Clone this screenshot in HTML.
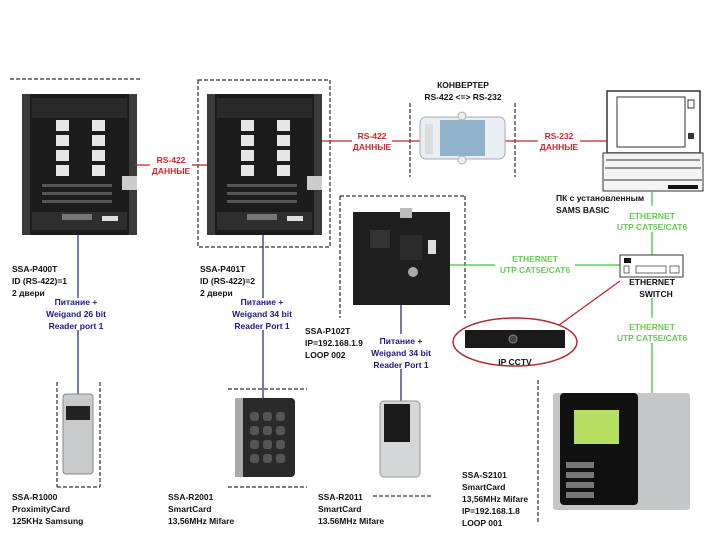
<!DOCTYPE html>
<html><head><meta charset="utf-8"><style>
html,body{margin:0;padding:0;background:#fff;width:720px;height:540px;overflow:hidden}
svg text{font-family:"Liberation Sans",sans-serif;font-weight:bold;font-size:8.5px}
</style></head><body>
<svg width="720" height="540" viewBox="0 0 720 540" xmlns="http://www.w3.org/2000/svg">
<defs>
<symbol id="board" viewBox="0 0 115 141" width="115" height="141">
<rect x="0" y="0" width="115" height="141" fill="#1c1c1c"/>
<rect x="0" y="0" width="8" height="141" fill="#3a3a3a"/>
<rect x="107" y="0" width="8" height="141" fill="#3a3a3a"/>
<rect x="10" y="4" width="95" height="20" fill="#2a2a2a"/>
<g fill="#e6e6e6">
<rect x="34" y="26" width="13" height="11"/><rect x="34" y="41" width="13" height="11"/><rect x="34" y="56" width="13" height="11"/><rect x="34" y="71" width="13" height="11"/>
<rect x="70" y="26" width="13" height="11"/><rect x="70" y="41" width="13" height="11"/><rect x="70" y="56" width="13" height="11"/><rect x="70" y="71" width="13" height="11"/>
</g>
<rect x="10" y="118" width="95" height="18" fill="#2e2e2e"/>
<rect x="40" y="120" width="30" height="6" fill="#777"/>
<rect x="80" y="122" width="16" height="5" fill="#ddd"/>
<g fill="#555"><rect x="20" y="90" width="70" height="3"/><rect x="20" y="98" width="70" height="3"/><rect x="20" y="106" width="70" height="3"/></g>
<rect x="100" y="82" width="15" height="14" fill="#ccc"/>
</symbol>
</defs>
<g stroke="#000" stroke-width="1" stroke-dasharray="4,2" fill="none">
<line x1="10" y1="79" x2="142" y2="79"/>
<rect x="198" y="80" width="132" height="167"/>
<line x1="410" y1="103" x2="410" y2="177"/><line x1="515" y1="103" x2="515" y2="177"/>
<line x1="340" y1="196" x2="465" y2="196"/><line x1="465" y1="196" x2="465" y2="318"/><line x1="340" y1="196" x2="340" y2="318"/>
<line x1="57" y1="382" x2="57" y2="487"/><line x1="100" y1="382" x2="100" y2="487"/><line x1="57" y1="487" x2="100" y2="487"/>
<line x1="228" y1="389" x2="307" y2="389"/><line x1="228" y1="487" x2="307" y2="487"/>
<line x1="373" y1="496" x2="432" y2="496"/>
<line x1="538" y1="380" x2="538" y2="522"/>
</g>
<use href="#board" x="22" y="94"/>
<use href="#board" x="207" y="94"/>
<g stroke="#c0282a" stroke-width="1.3">
<line x1="135" y1="165" x2="150" y2="165"/><line x1="192" y1="165" x2="207" y2="165"/>
<line x1="322" y1="141" x2="352" y2="141"/><line x1="392" y1="141" x2="420" y2="141"/>
<line x1="505" y1="141" x2="538" y2="141"/><line x1="580" y1="141" x2="608" y2="141"/>
<line x1="620" y1="281" x2="555" y2="328"/>
</g>
<g fill="#d0282a" text-anchor="middle">
<text x="171" y="163">RS-422</text><text x="171" y="174">ДАННЫЕ</text>
<text x="372" y="139">RS-422</text><text x="372" y="150">ДАННЫЕ</text>
<text x="559" y="139">RS-232</text><text x="559" y="150">ДАННЫЕ</text>
</g>
<g>
<rect x="420" y="117" width="85" height="42" rx="6" fill="#e8eef2" stroke="#aab" />
<rect x="440" y="120" width="45" height="36" fill="#8fb2c8"/>
<rect x="425" y="124" width="8" height="30" fill="#ddd"/>
<circle cx="462" cy="116" r="4" fill="#eee" stroke="#aaa"/><circle cx="462" cy="160" r="4" fill="#eee" stroke="#aaa"/>
</g>
<g text-anchor="middle" fill="#111"><text x="463" y="88">КОНВЕРТЕР</text><text x="463" y="100">RS-422 &lt;=&gt; RS-232</text></g>
<rect x="607" y="91" width="93" height="62" fill="#fff" stroke="#333" stroke-width="1.5"/>
<rect x="617" y="97" width="68" height="50" fill="#fff" stroke="#333"/>
<rect x="688" y="100" width="6" height="8" fill="none" stroke="#333"/>
<rect x="688" y="133" width="6" height="6" fill="#333"/>
<path d="M603 153 L703 153 L703 191 L603 191 Z" fill="#f4f4f4" stroke="#333"/>
<line x1="606" y1="160" x2="700" y2="160" stroke="#333"/><line x1="605" y1="168" x2="701" y2="168" stroke="#333"/><line x1="604" y1="180" x2="702" y2="180" stroke="#333"/>
<rect x="668" y="185" width="30" height="4" fill="#111"/>
<text x="556" y="201" fill="#111">ПК с установленным</text><text x="556" y="213" fill="#111">SAMS BASIC</text>
<g stroke="#3cc83c" stroke-width="1.3">
<line x1="652" y1="191" x2="652" y2="206"/><line x1="652" y1="232" x2="652" y2="256"/>
<line x1="450" y1="265" x2="495" y2="265"/><line x1="575" y1="265" x2="621" y2="265"/>
<line x1="652" y1="298" x2="652" y2="318"/><line x1="652" y1="343" x2="652" y2="393"/>
</g>
<g fill="#66cc55" text-anchor="middle" font-weight="normal">
<text x="652" y="219">ETHERNET</text><text x="652" y="230">UTP CAT5E/CAT6</text>
<text x="535" y="262">ETHERNET</text><text x="535" y="273">UTP CAT5E/CAT6</text>
<text x="652" y="330">ETHERNET</text><text x="652" y="341">UTP CAT5E/CAT6</text>
</g>
<rect x="620" y="255" width="63" height="22" fill="#fff" stroke="#333"/>
<rect x="624" y="258" width="7" height="5" fill="#111"/>
<rect x="624" y="266" width="5" height="7" fill="none" stroke="#333" stroke-width=".7"/>
<rect x="636" y="266" width="30" height="7" fill="none" stroke="#333" stroke-width=".7"/>
<rect x="670" y="266" width="9" height="7" fill="none" stroke="#333" stroke-width=".7"/>
<g text-anchor="middle" fill="#111"><text x="652" y="285">ETHERNET</text><text x="656" y="297">SWITCH</text></g>
<rect x="353" y="212" width="97" height="93" fill="#1e1e1e"/>
<rect x="400" y="208" width="12" height="10" fill="#bbb"/>
<rect x="370" y="230" width="20" height="18" fill="#333"/>
<rect x="400" y="235" width="22" height="25" fill="#2c2c2c"/>
<circle cx="413" cy="272" r="5" fill="#aaa"/>
<rect x="428" y="240" width="8" height="14" fill="#ddd"/>
<ellipse cx="515" cy="342" rx="62" ry="24" fill="#fff" stroke="#b02a2e" stroke-width="1.5"/>
<rect x="465" y="330" width="100" height="18" fill="#1a1a1a"/>
<circle cx="513" cy="339" r="4" fill="#444" stroke="#888"/>
<text x="515" y="365" text-anchor="middle" fill="#111">IP CCTV</text>
<g stroke="#1a1a8a" stroke-width="1.2">
<line x1="78" y1="234" x2="78" y2="298"/><line x1="78" y1="330" x2="78" y2="394"/>
<line x1="263" y1="234" x2="263" y2="298"/><line x1="263" y1="330" x2="263" y2="398"/>
<line x1="401" y1="305" x2="401" y2="334"/><line x1="401" y1="369" x2="401" y2="402"/>
</g>
<g fill="#1a1a8a" text-anchor="middle">
<text x="76" y="305">Питание +</text><text x="76" y="317">Weigand 26 bit</text><text x="76" y="329">Reader port 1</text>
<text x="262" y="305">Питание +</text><text x="262" y="317">Weigand 34 bit</text><text x="262" y="329">Reader Port 1</text>
<text x="401" y="344">Питание +</text><text x="401" y="356">Weigand 34 bit</text><text x="401" y="368">Reader Port 1</text>
</g>
<g fill="#111">
<text x="12" y="272">SSA-P400T</text><text x="12" y="284">ID (RS-422)=1</text><text x="12" y="296" font-weight="normal">2 двери</text>
<text x="200" y="272">SSA-P401T</text><text x="200" y="284">ID (RS-422)=2</text><text x="200" y="296" font-weight="normal">2 двери</text>
<text x="305" y="334">SSA-P102T</text><text x="305" y="346">IP=192.168.1.9</text><text x="305" y="358">LOOP 002</text>
<text x="12" y="500">SSA-R1000</text><text x="12" y="512">ProximityCard</text><text x="12" y="524">125KHz Samsung</text>
<text x="168" y="500">SSA-R2001</text><text x="168" y="512">SmartCard</text><text x="168" y="524">13,56MHz Mifare</text>
<text x="318" y="500">SSA-R2011</text><text x="318" y="512">SmartCard</text><text x="318" y="524">13.56MHz Mifare</text>
<text x="462" y="478">SSA-S2101</text><text x="462" y="490">SmartCard</text><text x="462" y="502">13,56MHz Mifare</text><text x="462" y="514">IP=192.168.1.8</text><text x="462" y="526">LOOP 001</text>
</g>
<rect x="63" y="394" width="30" height="80" rx="3" fill="#c8cacc" stroke="#888"/>
<rect x="66" y="406" width="24" height="14" fill="#222"/>
<rect x="235" y="398" width="60" height="79" rx="4" fill="#2a2a2a"/>
<rect x="235" y="398" width="8" height="79" fill="#aaa"/>
<g fill="#555"><rect x="250" y="412" width="9" height="9" rx="3"/><rect x="263" y="412" width="9" height="9" rx="3"/><rect x="276" y="412" width="9" height="9" rx="3"/>
<rect x="250" y="426" width="9" height="9" rx="3"/><rect x="263" y="426" width="9" height="9" rx="3"/><rect x="276" y="426" width="9" height="9" rx="3"/>
<rect x="250" y="440" width="9" height="9" rx="3"/><rect x="263" y="440" width="9" height="9" rx="3"/><rect x="276" y="440" width="9" height="9" rx="3"/>
<rect x="250" y="454" width="9" height="9" rx="3"/><rect x="263" y="454" width="9" height="9" rx="3"/><rect x="276" y="454" width="9" height="9" rx="3"/></g>
<rect x="380" y="401" width="40" height="76" rx="4" fill="#d4d6d8" stroke="#999"/>
<rect x="384" y="404" width="26" height="38" fill="#1a1a1a"/>
<rect x="553" y="393" width="137" height="117" rx="3" fill="#c4c6c8"/>
<rect x="560" y="393" width="78" height="112" rx="4" fill="#111"/>
<rect x="574" y="410" width="45" height="34" fill="#b8e060"/>
<g fill="#777"><rect x="566" y="462" width="28" height="6"/><rect x="566" y="472" width="28" height="6"/><rect x="566" y="482" width="28" height="6"/><rect x="566" y="492" width="28" height="6"/></g>
</svg>
</body></html>
